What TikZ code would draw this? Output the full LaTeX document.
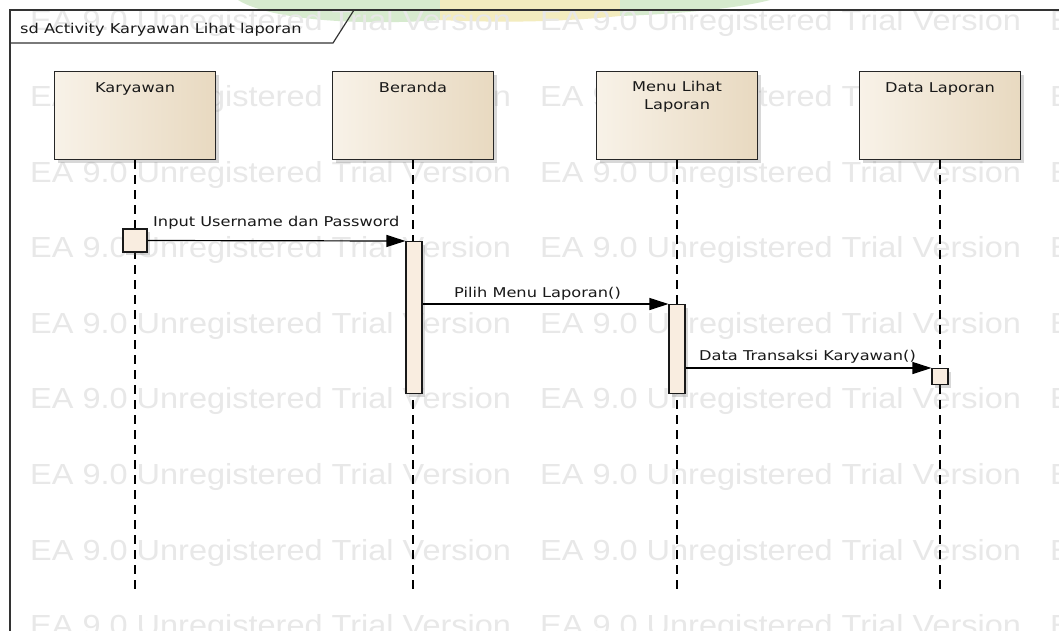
\documentclass[tikz,border=0pt]{standalone}
\usepackage{fontspec}
\usetikzlibrary{arrows.meta,shadows}
\newfontfamily\lblfont[FakeStretch=1.2]{DejaVu Sans}
\newfontfamily\wmfont[FakeStretch=1.12]{Liberation Sans}

\definecolor{boxL}{RGB}{248,242,232}
\definecolor{boxR}{RGB}{232,217,192}
\definecolor{actfill}{RGB}{249,237,224}
\definecolor{wmgray}{RGB}{232,232,232}
\definecolor{logogreen}{RGB}{214,234,206}
\definecolor{logoyellow}{RGB}{243,236,190}

\tikzset{
  lbl/.style={font=\lblfont\fontsize{13.5}{17}\selectfont, inner sep=0pt, text=black!90},
  wm/.style={font=\wmfont\fontsize{29}{34}\selectfont, inner sep=0pt, text=wmgray, anchor=base west},
  lifebox/.style={draw=black!85, line width=1.1pt, left color=boxL, right color=boxR,
    minimum width=161pt, minimum height=88pt, inner sep=0pt, anchor=north west,
    drop shadow={shadow xshift=3pt, shadow yshift=-3pt, opacity=0.25, fill=black!60}},
  act/.style={draw=black!90, line width=1.1pt, fill=actfill, inner sep=0pt,
    drop shadow={shadow xshift=3pt, shadow yshift=-3pt, opacity=0.25, fill=black!60}},
  lifeline/.style={draw=black, line width=1.2pt, dash pattern=on 9pt off 6pt},
  msg/.style={draw=black, line width=1.2pt, -{Triangle[length=19pt,width=12pt]}},
  frameline/.style={draw=black!80, line width=1.2pt},
}

\begin{document}
\begin{tikzpicture}[x=1pt,y=-1pt]
\useasboundingbox (0,0) rectangle (1059,630);
\clip (0,0) rectangle (1059,630);
\fill[white] (0,0) rectangle (1059,630);

% faint emblem at the top edge
\fill[logogreen] (238,0) .. controls (270,20) and (360,26) .. (440,20) -- (440,0) -- cycle;
\fill[logoyellow] (440,0) -- (440,20) .. controls (500,23) and (560,22) .. (620,16) -- (620,0) -- cycle;
\fill[logogreen] (620,0) -- (620,16) .. controls (680,14) and (740,8) .. (770,0) -- cycle;

% trial-version watermark
\foreach \r in {0,...,8}
  \foreach \c in {0,1,2}
    \node[wm] (wm-\r-\c) at ({30+510*\c},{30.8+75.6*\r}) {EA 9.0 Unregistered Trial Version};

% frame and its tab
\draw[frameline] (1070,10) -- (10,10) -- (10,640);
\draw[frameline] (10,43) -- (333,43) -- (354,10);
\node[lbl, anchor=base west] (title) at (20,33) {sd Activity Karyawan Lihat laporan};

% lifeline heads
\node[lifebox] (kar) at (54,71) {};
\node[lifebox] (ber) at (332,71) {};
\node[lifebox] (men) at (596,71) {};
\node[lifebox] (dat) at (859,71) {};
\node[lbl, anchor=base] (kar-t) at ([yshift=-21pt]kar.north) {Karyawan};
\node[lbl, anchor=base] (ber-t) at ([yshift=-21pt]ber.north) {Beranda};
\node[lbl, anchor=north, align=center] (men-t) at ([yshift=-10pt]men.north) {Menu Lihat\\[1pt]Laporan};
\node[lbl, anchor=base] (dat-t) at ([yshift=-21pt]dat.north) {Data Laporan};

% lifelines
\coordinate (kar-end) at (kar.south |- 0,594);
\coordinate (ber-end) at (ber.south |- 0,594);
\coordinate (men-end) at (men.south |- 0,594);
\coordinate (dat-end) at (dat.south |- 0,594);
\draw[lifeline] (kar.south) -- (kar-end);
\draw[lifeline] (ber.south) -- (ber-end);
\draw[lifeline] (men.south) -- (men-end);
\draw[lifeline] (dat.south) -- (dat-end);

% activations
\node[act, minimum width=24pt, minimum height=23pt] (ka) at (135,240.5) {};
\node[act, minimum width=16pt, minimum height=152pt, anchor=north] (ba) at (414,241) {};
\node[act, minimum width=16pt, minimum height=89pt, anchor=north] (ma) at (677,304) {};
\node[act, minimum width=16pt, minimum height=16pt, anchor=north] (da) at (940,368) {};

% messages
\draw[msg] (ka.east) -- (ba.north west);
\draw[msg] (ba.east |- ma.north west) -- (ma.north west);
\draw[msg] (ma.east |- da.north west) -- (da.north west);
\node[lbl, anchor=base west] (m1) at (153,226) {Input Username dan Password};
\node[lbl, anchor=base west] (m2) at (454,297) {Pilih Menu Laporan()};
\node[lbl, anchor=base west] (m3) at (699,360) {Data Transaksi Karyawan()};
\end{tikzpicture}
\end{document}
